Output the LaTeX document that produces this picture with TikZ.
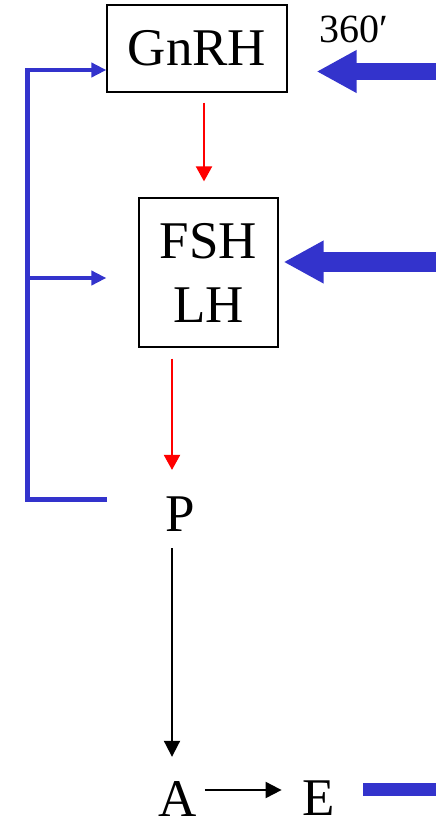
\documentclass[tikz,border=0pt]{standalone}
\usepackage{fontspec}
\setmainfont{Liberation Serif}
\usetikzlibrary{arrows.meta}
\definecolor{hblue}{RGB}{51,51,204}

\begin{document}
\begin{tikzpicture}[x=1pt,y=-1pt,
    hbox/.style={draw,line width=1.2pt,inner sep=0pt},
    big/.style={font=\fontsize{53}{64}\selectfont},
    redarr/.style={red,line width=2pt,-{Triangle[length=15pt,width=16pt]}},
    blkarr/.style={black,line width=2pt,-{Triangle[length=16pt,width=16pt]}},
    bline/.style={hblue,line width=4.5pt},
    btip/.style={-{Triangle[length=15pt,width=14pt]}},
    fat/.style={hblue,-{Triangle[length=40pt,width=40pt]}}]
\useasboundingbox (0,0) rectangle (436,823);
\node (gnrh) [hbox,big,minimum width=180pt,minimum height=87pt] at (197,48.5) {GnRH};
\node (fsh) [hbox,big,align=center,minimum width=139pt,minimum height=149pt] at (208.5,272.5) {FSH\\LH};
\node (p) [big,inner sep=0pt] at (180,514.5) {P};
\node (a) [big,inner sep=0pt] at (177.5,798.5) {A};
\node (e) [big,inner sep=0pt] at (319,798.5) {E};
\node (dose) [anchor=base west,inner sep=0pt,font=\fontsize{40}{48}\selectfont] at (319,42) {360′};
% axis
\draw [redarr] ([xshift=7pt,yshift=-10pt]gnrh.south) -- ([xshift=-4.5pt,yshift=16pt]fsh.north);
\draw [redarr] ([xshift=-36.5pt,yshift=-11pt]fsh.south) -- ([xshift=-8pt,yshift=27pt]p.north);
\draw [blkarr] ([xshift=-8pt,yshift=-16pt]p.south) -- ([xshift=-5.5pt,yshift=24pt]a.north);
\draw [blkarr] ([xshift=8pt,yshift=8.5pt]a.east) -- ([xshift=-21pt,yshift=8.5pt]e.west);
% feedback
\coordinate (pin) at (107,499.5);
\draw [bline,btip] (pin) -| (27.5,70) -- ([yshift=-21.5pt]gnrh.west);
\draw [bline,btip] (27.5,278) -- ([xshift=-32pt,yshift=-5.5pt]fsh.west);
% inputs
\coordinate (in1) at (436,71.5);
\coordinate (in2) at (436,262);
\coordinate (out) at (436,789.5);
\draw [fat,line width=17pt] (in1) -- ([xshift=29pt,yshift=-23pt]gnrh.east);
\draw [fat,line width=20pt] (in2) -- ([xshift=5pt,yshift=10.5pt]fsh.east);
\draw [hblue,line width=13pt] ([xshift=28pt,yshift=9pt]e.east) -- (out);
\end{tikzpicture}
\end{document}
